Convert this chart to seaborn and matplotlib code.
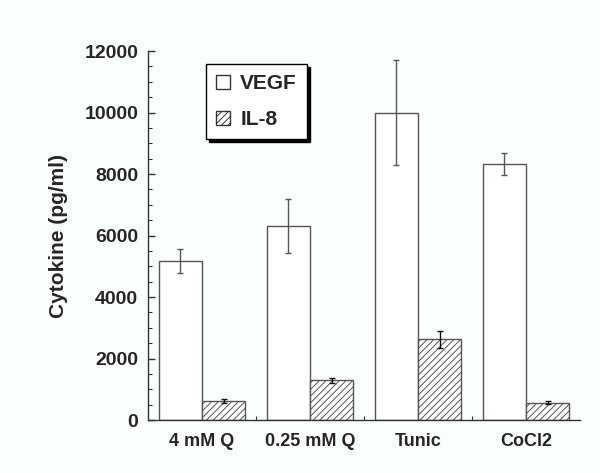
import seaborn as sns
import matplotlib.pyplot as plt
import numpy as np
import pandas as pd
from matplotlib.ticker import MultipleLocator, FixedLocator

# values
treatments = ['4 mM Q', '0.25 mM Q', 'Tunic', 'CoCl2']
vegf = [5170, 6300, 10000, 8320]
vegf_err = [390, 880, 1700, 350]
il8 = [610, 1300, 2620, 560]
il8_err = [60, 80, 270, 50]

df = pd.DataFrame({
    'treatment': treatments * 2,
    'cytokine': ['VEGF'] * 4 + ['IL-8'] * 4,
    'value': vegf + il8,
})

sns.set_style('ticks')
plt.rcParams['font.family'] = ['Liberation Sans', 'DejaVu Sans']
plt.rcParams['font.weight'] = 'bold'
plt.rcParams['hatch.color'] = '#555555'
plt.rcParams['hatch.linewidth'] = 0.7

bg = '#fbfeff'
fig = plt.figure(figsize=(6, 4.73), dpi=100, facecolor=bg)
ax = fig.add_axes([0.2467, 0.112, 0.72, 0.78])
ax.set_facecolor(bg)

sns.barplot(data=df, x='treatment', y='value', hue='cytokine', order=treatments,
            hue_order=['VEGF', 'IL-8'], palette=['white', 'white'], width=0.8,
            edgecolor='#555555', linewidth=1.0, errorbar=None, ax=ax)

bars = ax.patches[:8]
for p in bars[4:]:
    p.set_hatch('/////')

# error bars at the bar centres
for p, err, col in zip(bars, vegf_err + il8_err, ['#555555'] * 4 + ['#111111'] * 4):
    xc = p.get_x() + p.get_width() / 2
    ax.errorbar(xc, p.get_height(), yerr=err, fmt='none', ecolor=col,
                elinewidth=1.0, capsize=2.5, capthick=1.0)

ax.set_xlim(-0.5, 3.5)
ax.set_ylim(0, 12000)
ax.yaxis.set_major_locator(MultipleLocator(2000))
ax.yaxis.set_minor_locator(MultipleLocator(500))
ax.xaxis.set_minor_locator(FixedLocator(np.arange(-0.3, 3.5, 0.2)))
ax.tick_params(axis='both', which='major', direction='in', length=5, width=1,
               color='#333333')
ax.tick_params(axis='both', which='minor', direction='in', length=3, width=0.8,
               color='#333333')
ax.tick_params(axis='y', which='major', labelsize=14, pad=7)
ax.tick_params(axis='x', which='major', length=0, pad=9, labelsize=13)
for lab in ax.get_xticklabels() + ax.get_yticklabels():
    lab.set_fontweight('bold')

sns.despine(ax=ax)
for s in ['left', 'bottom']:
    ax.spines[s].set_color('#333333')
    ax.spines[s].set_linewidth(1.0)

ax.set_xlabel('')
ax.set_ylabel('Cytokine (pg/ml)', fontsize=15, fontweight='bold', labelpad=12)

leg = ax.legend(loc='upper left', bbox_to_anchor=(0.134, 0.965), frameon=True,
                fancybox=False, shadow={'color': 'black', 'alpha': 1},
                edgecolor='black', fontsize=15,
                handlelength=0.65, handleheight=0.65, labelspacing=0.8,
                borderpad=0.5, handletextpad=0.5, borderaxespad=0)
leg.get_frame().set_linewidth(1.0)
leg.get_frame().set_facecolor('white')
for h in leg.legend_handles:
    h.set_edgecolor('#333333')
leg.legend_handles[1].set_hatch('/////')
for t in leg.get_texts():
    t.set_fontweight('bold')

fig.savefig('out.png', dpi=100, facecolor=bg)
